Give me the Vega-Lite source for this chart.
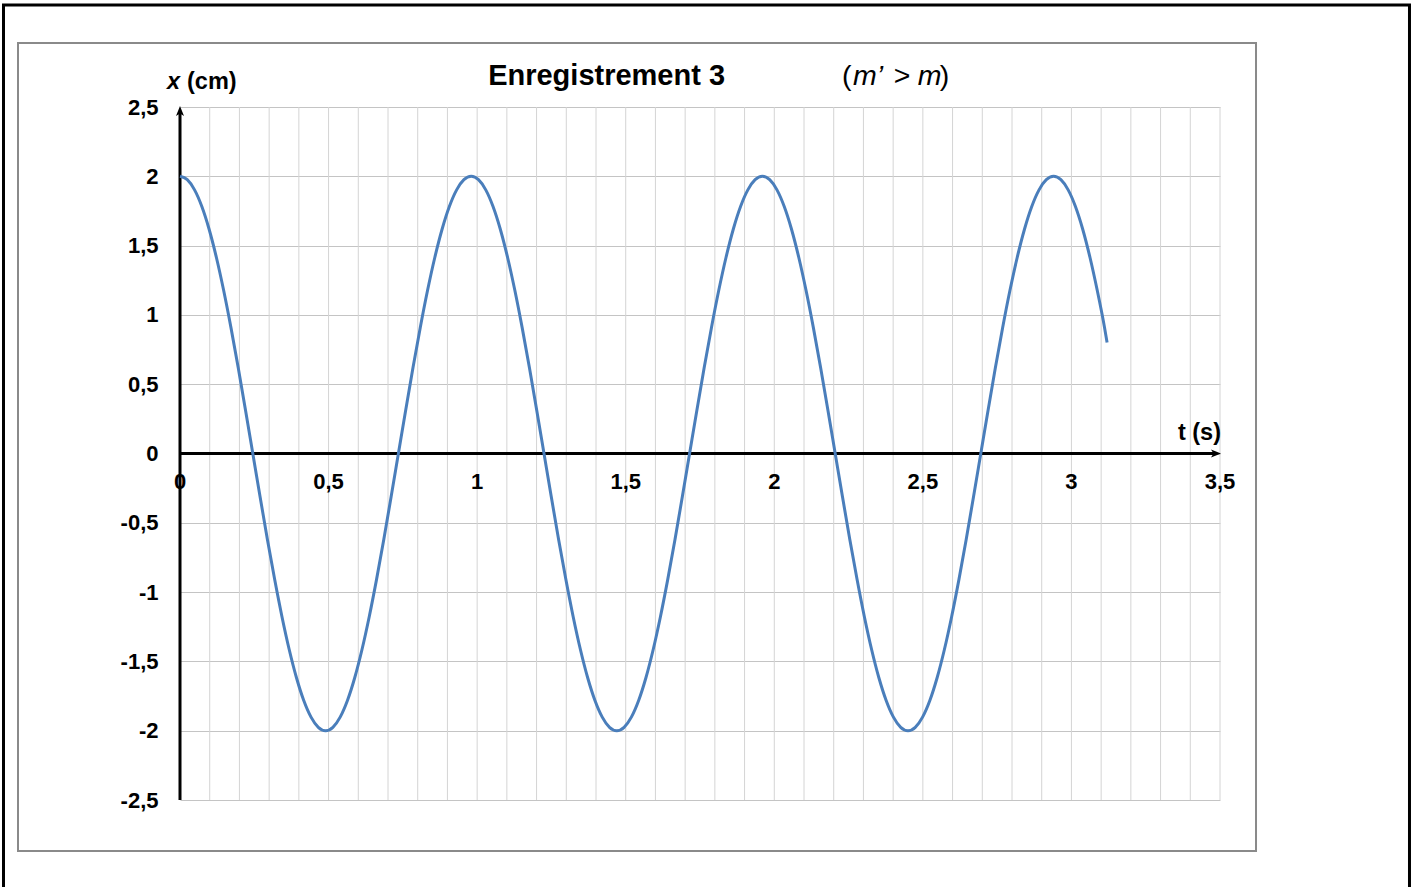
{
"$schema": "https://vega.github.io/schema/vega-lite/v6.json",
"width": 1040, "height": 693,
"autosize": {"type": "none"},
"padding": {"left": 180, "top": 107, "right": 191, "bottom": 87},
"background": "white",
"config": {"view": {"stroke": null}, "text": {"font": "Liberation Sans", "color": "black"}},
"datasets": {
"curve": [
{"t":0,"x":2},{"t":0.0245,"x":1.9754},{"t":0.049,"x":1.9021},{"t":0.0735,"x":1.782},{"t":0.098,"x":1.618},{"t":0.1225,"x":1.4142},{"t":0.147,"x":1.1756},{"t":0.1715,"x":0.908},{"t":0.196,"x":0.618},{"t":0.2205,"x":0.3129},
{"t":0.245,"x":0},{"t":0.2695,"x":-0.3129},{"t":0.294,"x":-0.618},{"t":0.3185,"x":-0.908},{"t":0.343,"x":-1.1756},{"t":0.3675,"x":-1.4142},{"t":0.392,"x":-1.618},{"t":0.4165,"x":-1.782},{"t":0.441,"x":-1.9021},{"t":0.4655,"x":-1.9754},
{"t":0.49,"x":-2},{"t":0.5145,"x":-1.9754},{"t":0.539,"x":-1.9021},{"t":0.5635,"x":-1.782},{"t":0.588,"x":-1.618},{"t":0.6125,"x":-1.4142},{"t":0.637,"x":-1.1756},{"t":0.6615,"x":-0.908},{"t":0.686,"x":-0.618},{"t":0.7105,"x":-0.3129},
{"t":0.735,"x":0},{"t":0.7595,"x":0.3129},{"t":0.784,"x":0.618},{"t":0.8085,"x":0.908},{"t":0.833,"x":1.1756},{"t":0.8575,"x":1.4142},{"t":0.882,"x":1.618},{"t":0.9065,"x":1.782},{"t":0.931,"x":1.9021},{"t":0.9555,"x":1.9754},
{"t":0.98,"x":2},{"t":1.0045,"x":1.9754},{"t":1.029,"x":1.9021},{"t":1.0535,"x":1.782},{"t":1.078,"x":1.618},{"t":1.1025,"x":1.4142},{"t":1.127,"x":1.1756},{"t":1.1515,"x":0.908},{"t":1.176,"x":0.618},{"t":1.2005,"x":0.3129},
{"t":1.225,"x":0},{"t":1.2495,"x":-0.3129},{"t":1.274,"x":-0.618},{"t":1.2985,"x":-0.908},{"t":1.323,"x":-1.1756},{"t":1.3475,"x":-1.4142},{"t":1.372,"x":-1.618},{"t":1.3965,"x":-1.782},{"t":1.421,"x":-1.9021},{"t":1.4455,"x":-1.9754},
{"t":1.47,"x":-2},{"t":1.4945,"x":-1.9754},{"t":1.519,"x":-1.9021},{"t":1.5435,"x":-1.782},{"t":1.568,"x":-1.618},{"t":1.5925,"x":-1.4142},{"t":1.617,"x":-1.1756},{"t":1.6415,"x":-0.908},{"t":1.666,"x":-0.618},{"t":1.6905,"x":-0.3129},
{"t":1.715,"x":0},{"t":1.7395,"x":0.3129},{"t":1.764,"x":0.618},{"t":1.7885,"x":0.908},{"t":1.813,"x":1.1756},{"t":1.8375,"x":1.4142},{"t":1.862,"x":1.618},{"t":1.8865,"x":1.782},{"t":1.911,"x":1.9021},{"t":1.9355,"x":1.9754},
{"t":1.96,"x":2},{"t":1.9845,"x":1.9754},{"t":2.009,"x":1.9021},{"t":2.0335,"x":1.782},{"t":2.058,"x":1.618},{"t":2.0825,"x":1.4142},{"t":2.107,"x":1.1756},{"t":2.1315,"x":0.908},{"t":2.156,"x":0.618},{"t":2.1805,"x":0.3129},
{"t":2.205,"x":0},{"t":2.2295,"x":-0.3129},{"t":2.254,"x":-0.618},{"t":2.2785,"x":-0.908},{"t":2.303,"x":-1.1756},{"t":2.3275,"x":-1.4142},{"t":2.352,"x":-1.618},{"t":2.3765,"x":-1.782},{"t":2.401,"x":-1.9021},{"t":2.4255,"x":-1.9754},
{"t":2.45,"x":-2},{"t":2.4745,"x":-1.9754},{"t":2.499,"x":-1.9021},{"t":2.5235,"x":-1.782},{"t":2.548,"x":-1.618},{"t":2.5725,"x":-1.4142},{"t":2.597,"x":-1.1756},{"t":2.6215,"x":-0.908},{"t":2.646,"x":-0.618},{"t":2.6705,"x":-0.3129},
{"t":2.695,"x":0},{"t":2.7195,"x":0.3129},{"t":2.744,"x":0.618},{"t":2.7685,"x":0.908},{"t":2.793,"x":1.1756},{"t":2.8175,"x":1.4142},{"t":2.842,"x":1.618},{"t":2.8665,"x":1.782},{"t":2.891,"x":1.9021},{"t":2.9155,"x":1.9754},
{"t":2.94,"x":2},{"t":2.9645,"x":1.9754},{"t":2.989,"x":1.9021},{"t":3.0135,"x":1.782},{"t":3.038,"x":1.618},{"t":3.0625,"x":1.4142},{"t":3.087,"x":1.1756},{"t":3.1115,"x":0.908},{"t":3.12,"x":0.8}
],
"xticks": [
{"t":0,"lab":"0"},{"t":0.5,"lab":"0,5"},{"t":1,"lab":"1"},{"t":1.5,"lab":"1,5"},{"t":2,"lab":"2"},{"t":2.5,"lab":"2,5"},{"t":3,"lab":"3"},{"t":3.5,"lab":"3,5"}
],
"vgrid": [
{"t":0.1},{"t":0.2},{"t":0.3},{"t":0.4},{"t":0.5},{"t":0.6},{"t":0.7},{"t":0.8},{"t":0.9},{"t":1},
{"t":1.1},{"t":1.2},{"t":1.3},{"t":1.4},{"t":1.5},{"t":1.6},{"t":1.7},{"t":1.8},{"t":1.9},{"t":2},
{"t":2.1},{"t":2.2},{"t":2.3},{"t":2.4},{"t":2.5},{"t":2.6},{"t":2.7},{"t":2.8},{"t":2.9},{"t":3},
{"t":3.1},{"t":3.2},{"t":3.3},{"t":3.4},{"t":3.5}
]
},
"layer": [
{
"data": {"name": "curve"},
"mark": {"type": "line", "opacity": 0},
"encoding": {
"x": {"field": "t", "type": "quantitative", "scale": {"domain": [0, 3.5], "nice": false, "zero": false},
"axis": {"labels": false, "ticks": false, "domain": false, "grid": false, "title": null}},
"y": {"field": "x", "type": "quantitative", "scale": {"domain": [-2.5, 2.5], "nice": false, "zero": false},
"axis": {"values": [-2.5,-2,-1.5,-1,-0.5,0,0.5,1,1.5,2,2.5],
"labelExpr": "replace(toString(datum.value), '.', ',')",
"labelFont": "Liberation Sans", "labelFontWeight": "bold", "labelFontSize": 22, "labelColor": "black",
"labelPadding": 22, "ticks": false, "tickSize": 0, "domain": false, "grid": true, "gridColor": "#c4c4c4", "gridWidth": 1,
"title": null, "labelOverlap": false, "labelFlush": false}}
}
},
{
"data": {"name": "vgrid"},
"mark": {"type": "rule", "color": "#d4d4d4", "strokeWidth": 1},
"encoding": {
"x": {"field": "t", "type": "quantitative", "scale": {"domain": [0, 3.5], "nice": false, "zero": false}},
"y": {"datum": -2.5, "type": "quantitative", "scale": {"domain": [-2.5, 2.5], "nice": false, "zero": false}},
"y2": {"datum": 2.5}
}
},
{
"data": {"values": [{}]},
"mark": {"type": "rect", "filled": false, "stroke": "black", "strokeWidth": 3},
"encoding": {
"x": {"datum": -0.594, "type": "quantitative", "scale": {"domain": [0, 3.5], "nice": false, "zero": false}},
"x2": {"datum": 4.1377},
"y": {"datum": 3.236, "type": "quantitative", "scale": {"domain": [-2.5, 2.5], "nice": false, "zero": false}},
"y2": {"datum": -3.22}
}
},
{
"data": {"values": [{}]},
"mark": {"type": "rect", "filled": false, "stroke": "#8a8a8a", "strokeWidth": 2},
"encoding": {
"x": {"datum": -0.5452, "type": "quantitative", "scale": {"domain": [0, 3.5], "nice": false, "zero": false}},
"x2": {"datum": 3.6212},
"y": {"datum": 2.9618, "type": "quantitative", "scale": {"domain": [-2.5, 2.5], "nice": false, "zero": false}},
"y2": {"datum": -2.868}
}
},
{
"data": {"values": [{}]},
"mark": {"type": "rule", "color": "black", "strokeWidth": 3},
"encoding": {
"x": {"datum": 0, "type": "quantitative", "scale": {"domain": [0, 3.5], "nice": false, "zero": false}},
"x2": {"datum": 3.49},
"y": {"datum": 0, "type": "quantitative", "scale": {"domain": [-2.5, 2.5], "nice": false, "zero": false}}
}
},
{
"data": {"values": [{}]},
"mark": {"type": "rule", "color": "black", "strokeWidth": 3},
"encoding": {
"x": {"datum": 0, "type": "quantitative", "scale": {"domain": [0, 3.5], "nice": false, "zero": false}},
"y": {"datum": -2.5, "type": "quantitative", "scale": {"domain": [-2.5, 2.5], "nice": false, "zero": false}},
"y2": {"datum": 2.47}
}
},
{
"data": {"values": [{}]},
"mark": {"type": "point", "shape": "M1,0L-1,-0.8L-0.5,0L-1,0.8Z", "filled": true, "color": "black", "size": 100, "opacity": 1, "xOffset": -4},
"encoding": {
"x": {"datum": 3.5, "type": "quantitative", "scale": {"domain": [0, 3.5], "nice": false, "zero": false}},
"y": {"datum": 0, "type": "quantitative", "scale": {"domain": [-2.5, 2.5], "nice": false, "zero": false}}
}
},
{
"data": {"values": [{}]},
"mark": {"type": "point", "shape": "M0,-1L0.8,1L0,0.5L-0.8,1Z", "filled": true, "color": "black", "size": 100, "opacity": 1, "yOffset": 4},
"encoding": {
"x": {"datum": 0, "type": "quantitative", "scale": {"domain": [0, 3.5], "nice": false, "zero": false}},
"y": {"datum": 2.5, "type": "quantitative", "scale": {"domain": [-2.5, 2.5], "nice": false, "zero": false}}
}
},
{
"data": {"name": "curve"},
"mark": {"type": "line", "color": "#4a7ebb", "strokeWidth": 3, "interpolate": "monotone"},
"encoding": {
"x": {"field": "t", "type": "quantitative", "scale": {"domain": [0, 3.5], "nice": false, "zero": false}},
"y": {"field": "x", "type": "quantitative", "scale": {"domain": [-2.5, 2.5], "nice": false, "zero": false}}
}
},
{
"data": {"name": "xticks"},
"mark": {"type": "text", "fontWeight": "bold", "fontSize": 22, "align": "center", "baseline": "middle", "dy": 28},
"encoding": {
"x": {"field": "t", "type": "quantitative", "scale": {"domain": [0, 3.5], "nice": false, "zero": false}},
"y": {"datum": 0, "type": "quantitative", "scale": {"domain": [-2.5, 2.5], "nice": false, "zero": false}},
"text": {"field": "lab"}
}
},
{
"data": {"values": [{}]},
"mark": {"type": "text", "text": "x", "fontWeight": "bold", "fontStyle": "italic", "fontSize": 23.5, "align": "left", "baseline": "middle", "dx": -13, "dy": -25},
"encoding": {
"x": {"datum": 0, "type": "quantitative", "scale": {"domain": [0, 3.5], "nice": false, "zero": false}},
"y": {"datum": 2.5, "type": "quantitative", "scale": {"domain": [-2.5, 2.5], "nice": false, "zero": false}}
}
},
{
"data": {"values": [{}]},
"mark": {"type": "text", "text": "(cm)", "fontWeight": "bold", "fontSize": 23.5, "align": "left", "baseline": "middle", "dx": 7, "dy": -25},
"encoding": {
"x": {"datum": 0, "type": "quantitative", "scale": {"domain": [0, 3.5], "nice": false, "zero": false}},
"y": {"datum": 2.5, "type": "quantitative", "scale": {"domain": [-2.5, 2.5], "nice": false, "zero": false}}
}
},
{
"data": {"values": [{}]},
"mark": {"type": "text", "text": "t (s)", "fontWeight": "bold", "fontSize": 23.5, "align": "right", "baseline": "middle", "dx": 1, "dy": -21},
"encoding": {
"x": {"datum": 3.5, "type": "quantitative", "scale": {"domain": [0, 3.5], "nice": false, "zero": false}},
"y": {"datum": 0, "type": "quantitative", "scale": {"domain": [-2.5, 2.5], "nice": false, "zero": false}}
}
},
{
"data": {"values": [{}]},
"mark": {"type": "text", "text": "Enregistrement 3", "fontWeight": "bold", "fontSize": 29, "align": "left", "baseline": "alphabetic", "dx": 11, "dy": -21.6},
"encoding": {
"x": {"datum": 1, "type": "quantitative", "scale": {"domain": [0, 3.5], "nice": false, "zero": false}},
"y": {"datum": 2.5, "type": "quantitative", "scale": {"domain": [-2.5, 2.5], "nice": false, "zero": false}}
}
},
{
"data": {"values": [{}]},
"mark": {"type": "text", "text": "(", "fontSize": 28.5, "align": "left", "baseline": "alphabetic", "dx": 67.7, "dy": -21.6},
"encoding": {
"x": {"datum": 2, "type": "quantitative", "scale": {"domain": [0, 3.5], "nice": false, "zero": false}},
"y": {"datum": 2.5, "type": "quantitative", "scale": {"domain": [-2.5, 2.5], "nice": false, "zero": false}}
}
},
{
"data": {"values": [{}]},
"mark": {"type": "text", "text": "m’", "fontStyle": "italic", "fontSize": 28.5, "align": "left", "baseline": "alphabetic", "dx": 78.7, "dy": -21.6},
"encoding": {
"x": {"datum": 2, "type": "quantitative", "scale": {"domain": [0, 3.5], "nice": false, "zero": false}},
"y": {"datum": 2.5, "type": "quantitative", "scale": {"domain": [-2.5, 2.5], "nice": false, "zero": false}}
}
},
{
"data": {"values": [{}]},
"mark": {"type": "text", "text": ">", "fontSize": 28.5, "align": "left", "baseline": "alphabetic", "dx": 119.5, "dy": -21.6},
"encoding": {
"x": {"datum": 2, "type": "quantitative", "scale": {"domain": [0, 3.5], "nice": false, "zero": false}},
"y": {"datum": 2.5, "type": "quantitative", "scale": {"domain": [-2.5, 2.5], "nice": false, "zero": false}}
}
},
{
"data": {"values": [{}]},
"mark": {"type": "text", "text": "m", "fontStyle": "italic", "fontSize": 28.5, "align": "left", "baseline": "alphabetic", "dx": 143.5, "dy": -21.6},
"encoding": {
"x": {"datum": 2, "type": "quantitative", "scale": {"domain": [0, 3.5], "nice": false, "zero": false}},
"y": {"datum": 2.5, "type": "quantitative", "scale": {"domain": [-2.5, 2.5], "nice": false, "zero": false}}
}
},
{
"data": {"values": [{}]},
"mark": {"type": "text", "text": ")", "fontSize": 28.5, "align": "left", "baseline": "alphabetic", "dx": 165.5, "dy": -21.6},
"encoding": {
"x": {"datum": 2, "type": "quantitative", "scale": {"domain": [0, 3.5], "nice": false, "zero": false}},
"y": {"datum": 2.5, "type": "quantitative", "scale": {"domain": [-2.5, 2.5], "nice": false, "zero": false}}
}
}
]
}
